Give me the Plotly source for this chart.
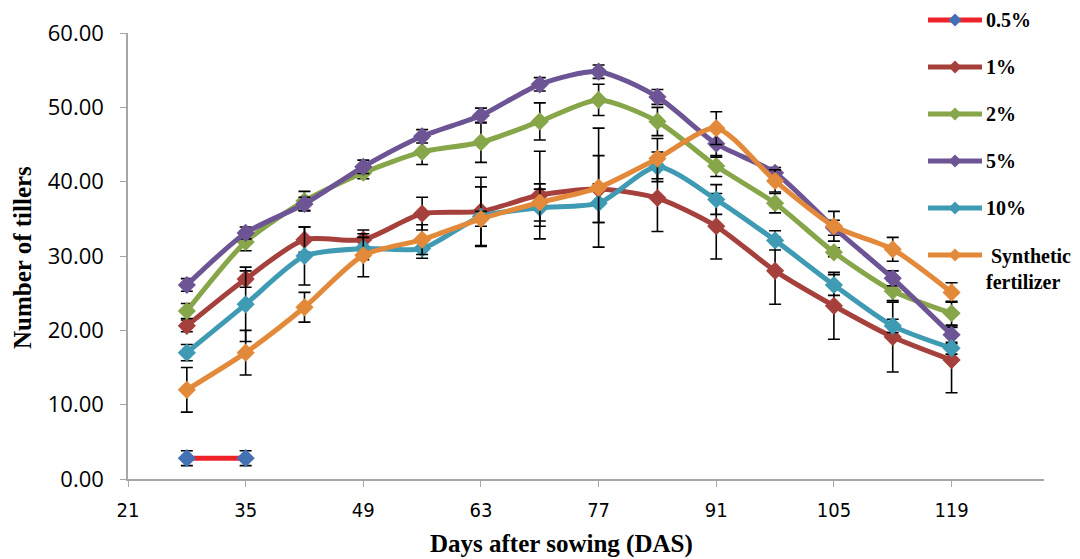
import plotly.graph_objects as go

days = [28, 35, 42, 49, 56, 63, 70, 77, 84, 91, 98, 105, 112, 119]
days_05 = [28, 35]

v_05 = [2.8, 2.8]
e_05 = [1.0, 1.0]

v_1 = [20.6, 26.9, 32.2, 32.2, 35.7, 36.0, 38.2, 39.0, 37.8, 34.0, 28.0, 23.3, 19.1, 16.0]
e_1 = [0.8, 1.1, 1.7, 1.3, 2.2, 4.6, 5.9, 4.5, 4.5, 4.4, 4.5, 4.5, 4.7, 4.4]

v_2 = [22.6, 31.9, 37.4, 41.2, 44.0, 45.3, 48.1, 51.0, 48.1, 42.1, 37.1, 30.5, 25.3, 22.3]
e_2 = [1.0, 1.2, 1.3, 0.8, 1.7, 2.7, 2.5, 2.1, 1.9, 1.4, 1.3, 0.6, 1.3, 1.6]

v_5 = [26.1, 33.1, 37.0, 42.0, 46.1, 48.9, 53.1, 54.8, 51.4, 45.1, 41.2, 33.8, 27.0, 19.4]
e_5 = [0.85, 0.8, 0.9, 0.9, 0.9, 1.0, 0.9, 0.9, 1.0, 1.8, 0.7, 1.0, 1.0, 1.2]

v_10 = [17.0, 23.5, 30.0, 31.0, 31.0, 35.3, 36.5, 37.1, 42.0, 37.6, 32.1, 26.1, 20.6, 17.6]
e_10 = [1.1, 5.0, 3.9, 1.5, 1.3, 4.0, 2.5, 2.6, 2.0, 2.0, 1.3, 1.4, 0.9, 0.8]

v_syn = [12.0, 17.0, 23.1, 30.1, 32.2, 35.0, 37.2, 39.2, 43.1, 47.2, 40.1, 34.0, 30.9, 25.1]
e_syn = [3.0, 3.0, 2.0, 2.9, 2.0, 1.0, 2.5, 8.0, 2.7, 2.2, 1.5, 2.0, 1.6, 1.3]

names = ["0.5%", "1%", "2%", "5%", "10%", " Synthetic<br>fertilizer"]
line_colors = ["#ee2229", "#a5403c", "#87a64a", "#6d5494", "#3f9bb3", "#e3893a"]
marker_colors = ["#4371b4", "#a5403c", "#87a64a", "#6d5494", "#3f9bb3", "#e3893a"]

series = [
    (days_05, v_05, e_05),
    (days, v_1, e_1),
    (days, v_2, e_2),
    (days, v_5, e_5),
    (days, v_10, e_10),
    (days, v_syn, e_syn),
]

x_ticks = [21, 35, 49, 63, 77, 91, 105, 119]
y_ticks = [0, 10, 20, 30, 40, 50, 60]
x_title = "Days after sowing (DAS)"
y_title = "Number of tillers"

# page offset (default body margin of the html page)
O = 8
W, H = 1080 - O, 559 - O
# plot area in page pixels: left 128, right 1044, top 33, bottom 479
ML, MT = 128 - O, 33 - O
MR = W - (1044 - O)
MB = H - (479 - O)
PW, PH = W - ML - MR, H - MT - MB


def px_x(px):  # page pixel -> paper fraction
    return (px - O - ML) / PW


def px_y(py):
    return (H - MB - (py - O)) / PH


fig = go.Figure()
for i, (xs, ys, es) in enumerate(series):
    fig.add_trace(go.Scatter(
        x=xs, y=ys, name=names[i].replace("<br>", " ").strip(), showlegend=False,
        mode="lines+markers",
        line=dict(color=line_colors[i], width=5, shape="spline", smoothing=0.7),
        marker=dict(symbol="diamond", size=14, color=marker_colors[i]),
        error_y=dict(type="data", array=es, visible=True, color="black",
                     thickness=1.6, width=6),
    ))

# legend drawn above the plot area, as in the reference
shapes = []
annotations = []
for i, nm in enumerate(names):
    cy = 20 + 47 * i
    shapes.append(dict(type="line", xref="paper", yref="paper",
                       x0=px_x(928), x1=px_x(982), y0=px_y(cy), y1=px_y(cy),
                       line=dict(color=line_colors[i], width=5)))
    shapes.append(dict(type="path", xref="paper", yref="paper",
                       xsizemode="pixel", ysizemode="pixel",
                       xanchor=px_x(955), yanchor=px_y(cy),
                       path="M 0 6.5 L 6.5 0 L 0 -6.5 L -6.5 0 Z",
                       fillcolor=marker_colors[i], line=dict(width=0)))
    two = "<br>" in nm
    annotations.append(dict(text="<b>" + nm + "</b>", xref="paper", yref="paper",
                            x=px_x(984), y=px_y(cy - 12 if two else cy),
                            xanchor="left", yanchor="top" if two else "middle",
                            align="left", showarrow=False,
                            font=dict(family="Liberation Serif", size=20, color="black")))

annotations.append(dict(text="<b>" + x_title + "</b>", xref="paper", yref="paper",
                        x=px_x(561), y=px_y(544), xanchor="center", yanchor="middle",
                        showarrow=False,
                        font=dict(family="Liberation Serif", size=25, color="black")))
annotations.append(dict(text="<b>" + y_title + "</b>", xref="paper", yref="paper",
                        x=px_x(22), y=px_y(258), xanchor="center", yanchor="middle",
                        textangle=-90, showarrow=False,
                        font=dict(family="Liberation Serif", size=25, color="black")))

fig.update_layout(
    width=W, height=H,
    margin=dict(l=ML, r=MR, t=MT, b=MB),
    paper_bgcolor="white", plot_bgcolor="white",
    showlegend=False,
    font=dict(family="Open Sans", color="black"),
    shapes=shapes,
    annotations=annotations,
)

fig.update_xaxes(
    range=[21, 130], tickvals=x_ticks, ticktext=[str(t) for t in x_ticks],
    showline=True, linecolor="#a6a6a6", linewidth=1.5,
    ticks="outside", ticklen=6, tickcolor="#a6a6a6",
    showgrid=False, zeroline=False, automargin=False,
    ticklabelstandoff=6,
    tickfont=dict(family="DejaVu Sans Condensed, Open Sans", size=20, color="black"),
)
fig.update_yaxes(
    range=[0, 60], tickvals=y_ticks, tickformat=".2f",
    showline=True, linecolor="#a6a6a6", linewidth=1.5,
    ticks="outside", ticklen=6, tickcolor="#a6a6a6",
    showgrid=False, zeroline=False, automargin=False,
    ticklabelstandoff=12,
    tickfont=dict(family="Open Sans", size=22, color="black"),
)

fig.write_html("out.html")
